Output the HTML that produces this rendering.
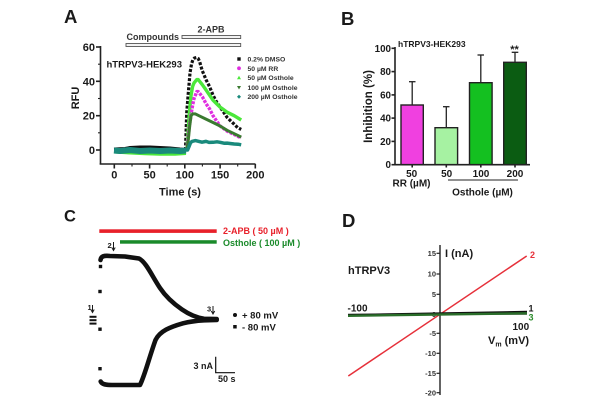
<!DOCTYPE html>
<html><head><meta charset="utf-8">
<style>
html,body{margin:0;padding:0;background:#fff;}
svg{display:block;font-family:"Liberation Sans",Arial,sans-serif;font-weight:bold;}
</style></head>
<body>
<svg width="600" height="400" viewBox="0 0 600 400" xmlns="http://www.w3.org/2000/svg">
<rect width="600" height="400" fill="#fff"/>

<!-- ================= PANEL A ================= -->
<text x="64" y="23" font-size="18.5" fill="#1a1a1a">A</text>
<rect x="182" y="35.5" width="58.7" height="3" fill="#f2f2f2" stroke="#555" stroke-width="0.9"/>
<rect x="126" y="43.5" width="114.7" height="3" fill="#f2f2f2" stroke="#555" stroke-width="0.9"/>
<text x="126.5" y="40" font-size="9" fill="#333">Compounds</text>
<text x="211" y="32.5" font-size="9" fill="#333" text-anchor="middle">2-APB</text>

<g stroke="#222" stroke-width="1.6" fill="none">
  <line x1="100.5" y1="46" x2="100.5" y2="164.5"/>
  <line x1="99.7" y1="164" x2="255.5" y2="164"/>
  <line x1="96" y1="47" x2="100.5" y2="47"/>
  <line x1="96" y1="81.3" x2="100.5" y2="81.3"/>
  <line x1="96" y1="115.7" x2="100.5" y2="115.7"/>
  <line x1="96" y1="150" x2="100.5" y2="150"/>
  <line x1="114.3" y1="164" x2="114.3" y2="168.5"/>
  <line x1="149.6" y1="164" x2="149.6" y2="168.5"/>
  <line x1="184.8" y1="164" x2="184.8" y2="168.5"/>
  <line x1="220.1" y1="164" x2="220.1" y2="168.5"/>
  <line x1="255.3" y1="164" x2="255.3" y2="168.5"/>
</g>
<g stroke="#222" stroke-width="1.1">
  <line x1="98" y1="64.2" x2="100.5" y2="64.2"/>
  <line x1="98" y1="98.5" x2="100.5" y2="98.5"/>
  <line x1="98" y1="132.8" x2="100.5" y2="132.8"/>
  <line x1="132" y1="164" x2="132" y2="166.5"/>
  <line x1="167.2" y1="164" x2="167.2" y2="166.5"/>
  <line x1="202.4" y1="164" x2="202.4" y2="166.5"/>
  <line x1="237.7" y1="164" x2="237.7" y2="166.5"/>
</g>
<g font-size="11" fill="#1a1a1a" text-anchor="end">
  <text x="95" y="51">60</text>
  <text x="95" y="85.3">40</text>
  <text x="95" y="119.7">20</text>
  <text x="95" y="154">0</text>
</g>
<g font-size="11" fill="#1a1a1a" text-anchor="middle">
  <text x="114.3" y="178.3">0</text>
  <text x="149.6" y="178.3">50</text>
  <text x="184.8" y="178.3">100</text>
  <text x="220.1" y="178.3">150</text>
  <text x="255.3" y="178.3">200</text>
  <text x="180" y="195.5">Time (s)</text>
</g>
<text transform="translate(79,98) rotate(-90)" font-size="11" fill="#1a1a1a" text-anchor="middle">RFU</text>
<text x="106.5" y="67.5" font-size="9.5" fill="#1a1a1a">hTRPV3-HEK293</text>

<g fill="none" stroke-linejoin="round">
  <polyline stroke="#111" stroke-width="3" points="114,149 125,148.5 130,147.5 140,147 150,147 160,147.5 170,148 180,149 187,149.5"/>
  <polyline stroke="#4be83a" stroke-width="3" points="114,152 130,153 145,153.8 160,154.2 175,154.2 186,153.5"/>
  <!-- black DMSO -->
  <polyline stroke="#111" stroke-width="3.2" stroke-dasharray="3 1.6" points="185.5,150 186.7,113 188.3,93 190,73 191.5,64 193,59.5 194.5,58 196.5,57.5 198.2,58.5 199.6,61.5 201,66.5 202.4,71 206,79.6 209.5,86.5 213,95.1 216.5,101.9 220.1,107.1 223.6,112.2 227.1,117.4 230.6,120.8 234.2,124.2 237.7,127.7 241.2,129.4"/>
  <!-- light green 50 osthole -->
  <polyline stroke="#4be83a" stroke-width="3.4" points="186.9,150 188.3,129.4 189.7,108.8 191.1,95.1 192.6,86.5 194,83 195.4,81.3 196.8,79.6 198.2,79.6 199.6,81.3 202.4,84.8 206,89.9 209.5,95.1 213,100.2 216.5,103.6 220.1,107.1 223.6,109.6 227.1,112.2 234.2,115.7 241.2,120"/>
  <!-- magenta RR -->
  <polyline stroke="#e02ee0" stroke-width="3.4" stroke-dasharray="3 1.2" points="186.9,150 188.3,136.3 189.7,124.2 191.1,113.9 192.6,105.4 194,98.5 195.4,95.1 196.8,91.6 198.2,91.6 199.6,93.3 202.4,96.8 206,103.6 209.5,108.8 213,115.7 216.5,120.8 220.1,126 227.1,131.1 234.2,134.5 241.2,138"/>
  <!-- dark green 100 -->
  <polyline stroke="#3a7a30" stroke-width="3" points="186.9,150 188.3,139.7 189.7,126 191.1,115.7 192.6,113.9 195.4,113.9 198.9,115.7 206,119.1 213,122.5 220.1,126 227.1,130.3 234.2,133.7 241.2,137.1"/>
  <!-- teal 200 -->
  <polyline stroke="#1a8a7c" stroke-width="6" points="114,150.5 120,151 130,150 140,151 150,150.5 160,151 170,150.5 180,151 186,150.5"/>
  <polyline stroke="#1a8a7c" stroke-width="3.5" points="184.8,150 187.6,150 189,146.6 190.4,143.1 191.9,141.4 195.4,140.6 198.9,141.4 202,142.2 206,141.4 209,142.4 213,142.3 217,141.8 220.1,142.3 224,143.2 227.1,143.1 231,143.6 234.2,144 238,144.2 241.2,144.8"/>
</g>

<rect x="237.3" y="57.3" width="3.4" height="3.4" fill="#111"/>
<circle cx="239" cy="68.3" r="1.9" fill="#e02ee0"/>
<polygon points="239,75.8 241,79.3 237,79.3" fill="#4be83a"/>
<polygon points="237,86 241,86 239,89.5" fill="#3a7a30"/>
<polygon points="239,94.7 241,96.7 239,98.7 237,96.7" fill="#1a8a7c"/>
<g font-size="6.8" fill="#333">
  <text x="247.5" y="61.5">0.2% DMSO</text>
  <text x="247.5" y="70.8">50 µM RR</text>
  <text x="247.5" y="80.2">50 µM Osthole</text>
  <text x="247.5" y="90.2">100 µM Osthole</text>
  <text x="247.5" y="99.2">200 µM Osthole</text>
</g>

<!-- ================= PANEL B ================= -->
<text x="341" y="25" font-size="18.5" fill="#1a1a1a">B</text>
<text x="398" y="47" font-size="8.5" fill="#1a1a1a">hTRPV3-HEK293</text>
<g stroke="#222" stroke-width="1.3">
  <line x1="412.2" y1="105" x2="412.2" y2="81.7"/><line x1="409" y1="81.7" x2="415.5" y2="81.7"/>
  <line x1="446.3" y1="127.7" x2="446.3" y2="106.7"/><line x1="443" y1="106.7" x2="449.5" y2="106.7"/>
  <line x1="480.8" y1="82.7" x2="480.8" y2="55"/><line x1="477.5" y1="55" x2="484" y2="55"/>
  <line x1="515" y1="62.3" x2="515" y2="52.3"/><line x1="511.7" y1="52.3" x2="518.3" y2="52.3"/>
</g>
<g stroke="#222" stroke-width="1.4">
  <rect x="401" y="105" width="22.3" height="59.7" fill="#f040e0"/>
  <rect x="435" y="127.7" width="22.6" height="37" fill="#a6f2a2"/>
  <rect x="469.5" y="82.7" width="22.6" height="82" fill="#14c020"/>
  <rect x="503.7" y="62.3" width="22.6" height="102.4" fill="#0b5c12"/>
</g>
<text x="514.5" y="53" font-size="11" fill="#1a1a1a" text-anchor="middle">**</text>
<g stroke="#222" stroke-width="1.6">
  <line x1="395" y1="47" x2="395" y2="165.5"/>
  <line x1="394.2" y1="164.7" x2="530" y2="164.7"/>
  <line x1="391.5" y1="48.3" x2="395" y2="48.3"/>
  <line x1="391.5" y1="71.6" x2="395" y2="71.6"/>
  <line x1="391.5" y1="94.9" x2="395" y2="94.9"/>
  <line x1="391.5" y1="118.1" x2="395" y2="118.1"/>
  <line x1="391.5" y1="141.4" x2="395" y2="141.4"/>
  <line x1="391.5" y1="164.7" x2="395" y2="164.7"/>
  <line x1="412.2" y1="164.7" x2="412.2" y2="167.5"/>
  <line x1="446.3" y1="164.7" x2="446.3" y2="167.5"/>
  <line x1="480.8" y1="164.7" x2="480.8" y2="167.5"/>
  <line x1="515" y1="164.7" x2="515" y2="167.5"/>
</g>
<g font-size="9.8" fill="#1a1a1a" text-anchor="end">
  <text x="391" y="51.8">100</text>
  <text x="391" y="75.1">80</text>
  <text x="391" y="98.4">60</text>
  <text x="391" y="121.6">40</text>
  <text x="391" y="144.9">20</text>
  <text x="391" y="168.2">0</text>
</g>
<g font-size="10" fill="#1a1a1a" text-anchor="middle">
  <text x="411.7" y="177">50</text>
  <text x="446.7" y="177">50</text>
  <text x="481" y="177">100</text>
  <text x="515" y="177">200</text>
  <text x="411.5" y="186.3">RR (µM)</text>
  <text x="482.5" y="195.3">Osthole (µM)</text>
</g>
<line x1="448" y1="180" x2="518" y2="180" stroke="#222" stroke-width="1"/>
<text transform="translate(372,106.5) rotate(-90)" font-size="11.5" fill="#1a1a1a" text-anchor="middle">Inhibition (%)</text>

<!-- ================= PANEL C ================= -->
<text x="64" y="221.7" font-size="16.5" fill="#1a1a1a">C</text>
<rect x="99.3" y="229.3" width="117.4" height="3.6" fill="#e8202a"/>
<rect x="120" y="240.2" width="96.7" height="3.5" fill="#1a8a2a"/>
<text x="223" y="234.2" font-size="9" fill="#e8202a">2-APB ( 50 µM )</text>
<text x="223" y="245.8" font-size="9" fill="#1a8a2a">Osthole ( 100 µM )</text>

<g font-size="7.5" fill="#1a1a1a">
  <text x="107.5" y="248">2</text>
  <text x="87.5" y="310">1</text>
  <text x="207" y="311.5">3</text>
</g>
<g stroke="#1a1a1a" stroke-width="1" fill="none">
  <line x1="113.5" y1="242" x2="113.5" y2="250"/><polyline points="111.8,247.5 113.5,250.5 115.2,247.5"/>
  <line x1="92.5" y1="305" x2="92.5" y2="312"/><polyline points="90.8,309.5 92.5,312.5 94.2,309.5"/>
  <line x1="213" y1="306" x2="213" y2="313.5"/><polyline points="211.3,311 213,314 214.7,311"/>
</g>

<g fill="none" stroke="#111" stroke-width="4.6" stroke-linejoin="round" stroke-linecap="round">
  <path d="M100.5,260 C101,256 104,255.5 110,256 L125,256.5 L139,258.5 C146,262 152,276 160,288 C166,297 174,304 182,309.5 C190,315 196,317.5 204,318.8 L216.7,319"/>
  <path d="M100.7,381.5 C102,384.5 106,385 112,385 L140,385 C145,375 149,358 155.5,340 C160,331 170,327 183,323.3 C190,321.5 197,320.7 204,320.3 L216.7,320"/>
</g>
<g fill="#111">
  <rect x="98.8" y="264.8" width="3.4" height="3.4"/>
  <rect x="98.3" y="289.8" width="3.4" height="3.4"/>
  <rect x="98.3" y="327.5" width="3.4" height="3.4"/>
  <rect x="98.3" y="367" width="3.4" height="3.4"/>
  <rect x="89.5" y="315.8" width="7" height="2"/>
  <rect x="89.5" y="319.2" width="7" height="2"/>
  <rect x="89.5" y="322.6" width="7" height="2"/>
</g>
<circle cx="235" cy="315" r="2" fill="#111"/>
<rect x="233.2" y="325" width="3.5" height="3.5" fill="#111"/>
<text x="242" y="318.6" font-size="9.5" fill="#1a1a1a">+ 80 mV</text>
<text x="242" y="330.3" font-size="9.5" fill="#1a1a1a">- 80 mV</text>
<text x="213" y="369" font-size="9" fill="#1a1a1a" text-anchor="end">3 nA</text>
<polyline points="215.7,356.7 215.7,372.7 235,372.7" fill="none" stroke="#111" stroke-width="1.2"/>
<text x="218" y="382" font-size="9" fill="#1a1a1a">50 s</text>

<!-- ================= PANEL D ================= -->
<text x="342" y="227" font-size="18.5" fill="#1a1a1a">D</text>
<line x1="440" y1="245" x2="440" y2="395" stroke="#222" stroke-width="1.4"/>
<g stroke="#222" stroke-width="1.2">
  <line x1="436.5" y1="253.3" x2="440" y2="253.3"/>
  <line x1="436.5" y1="274" x2="440" y2="274"/>
  <line x1="436.5" y1="294.3" x2="440" y2="294.3"/>
  <line x1="436.5" y1="314.3" x2="440" y2="314.3"/>
  <line x1="436.5" y1="333.3" x2="440" y2="333.3"/>
  <line x1="436.5" y1="353.3" x2="440" y2="353.3"/>
  <line x1="436.5" y1="373.3" x2="440" y2="373.3"/>
  <line x1="436.5" y1="392.7" x2="440" y2="392.7"/>
</g>
<g font-size="7.5" fill="#333" text-anchor="end">
  <text x="436" y="256">15</text>
  <text x="436" y="276.7">10</text>
  <text x="436" y="297">5</text>
  <text x="436" y="317">0</text>
  <text x="436" y="336">-5</text>
  <text x="436" y="356">-10</text>
  <text x="436" y="376">-15</text>
  <text x="436" y="395.4">-20</text>
</g>
<line x1="348" y1="314.3" x2="527" y2="314.3" stroke="#222" stroke-width="1"/>
<line x1="348.3" y1="376" x2="526.7" y2="256" stroke="#e6303a" stroke-width="1.5"/>
<line x1="348" y1="315" x2="527" y2="311.8" stroke="#111" stroke-width="2"/>
<line x1="348" y1="315.8" x2="527" y2="313.3" stroke="#2a6e2a" stroke-width="2.4"/>
<text x="530" y="258" font-size="9" fill="#e6303a">2</text>
<text x="528.5" y="311.5" font-size="9" fill="#1a1a1a">1</text>
<text x="528.5" y="320.5" font-size="9" fill="#2a8a2a">3</text>
<text x="445" y="257" font-size="11" fill="#1a1a1a">I (nA)</text>
<text x="348" y="274" font-size="11" fill="#1a1a1a">hTRPV3</text>
<text x="347.5" y="311.5" font-size="10" fill="#1a1a1a">-100</text>
<text x="512.5" y="330" font-size="10" fill="#1a1a1a">100</text>
<text x="488" y="344" font-size="11" fill="#1a1a1a">V<tspan font-size="7" dy="2.5">m</tspan><tspan dy="-2.5"> (mV)</tspan></text>

</svg>
</body></html>
